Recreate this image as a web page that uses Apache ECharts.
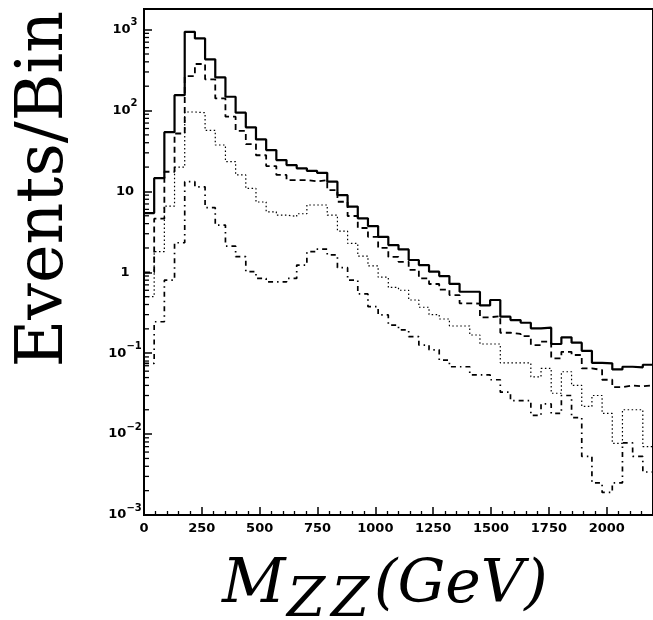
<!DOCTYPE html>
<html>
<head>
<meta charset="utf-8">
<script src="https://cdn.jsdelivr.net/npm/echarts@6/dist/echarts.min.js"></script>
<style>
html,body{margin:0;padding:0;background:#fff;}
#chart{width:653px;height:620px;}
</style>
</head>
<body>
<div id="chart"></div>
<script>
// Bin edges of the M_ZZ histogram (GeV), 50 bins of 44 GeV
const binEdges = [0,44,88,132,176,220,264,308,352,396,440,484,528,572,616,660,704,748,792,836,880,924,968,1012,1056,1100,1144,1188,1232,1276,1320,1364,1408,1452,1496,1540,1584,1628,1672,1716,1760,1804,1848,1892,1936,1980,2024,2068,2112,2156,2200];

// Events per bin, one value per bin
const solidTotal = [5.4,14.6,54,155,940,780,430,257,148,94,
  62,44,32.5,24.4,21.2,19.3,18,17,13.2,9.0,
  6.5,4.65,3.73,2.75,2.17,1.92,1.42,1.23,1.02,0.9,
  0.72,0.575,0.575,0.39,0.455,0.283,0.257,0.238,0.203,0.207,
  0.13,0.157,0.135,0.107,0.076,0.075,0.063,0.068,0.067,0.072];
const dashedSeries = [1.0,4.6,17.5,52,267,376,243,141,84,56,
  38.5,28,20.6,16,13.8,13.8,13.3,13.8,10.4,7.46,
  4.97,3.53,2.75,2.0,1.55,1.35,1.07,0.843,0.717,0.61,
  0.524,0.414,0.41,0.278,0.288,0.179,0.173,0.163,0.126,0.139,
  0.0865,0.104,0.095,0.065,0.062,0.047,0.038,0.040,0.039,0.040];
const dottedSeries = [0.5,1.8,6.6,20,96,94,57,37.5,23.3,16,
  10.9,7.4,5.6,5.1,4.9,5.3,6.8,6.8,5.1,3.24,
  2.28,1.59,1.2,0.87,0.65,0.6,0.455,0.37,0.3,0.265,
  0.217,0.217,0.168,0.13,0.13,0.076,0.076,0.076,0.051,0.065,
  0.032,0.059,0.040,0.022,0.030,0.018,0.0077,0.020,0.020,0.007];
const dashDotSeries = [0.075,0.245,0.8,2.32,13.2,11.4,6.3,3.84,2.11,1.56,
  1.02,0.84,0.76,0.76,0.84,1.23,1.8,1.94,1.64,1.14,
  0.8,0.54,0.376,0.297,0.223,0.194,0.16,0.126,0.11,0.082,
  0.068,0.068,0.054,0.054,0.047,0.033,0.026,0.026,0.017,0.0236,
  0.018,0.03,0.016,0.0053,0.0025,0.0019,0.0025,0.0078,0.0053,0.0034];

// Axis ticks
const xTickValues = [0,250,500,750,1000,1250,1500,1750,2000];
const yDecades = [-3,-2,-1,0,1,2,3];
const yMinorMultipliers = [2,3,4,5,6,7,8,9];

const yMinorTicks = [];
yDecades.forEach(d => yMinorMultipliers.forEach(m => {
  const v = m * Math.pow(10, d);
  if (v < 1800) yMinorTicks.push([0, v]);
}));

function histData(vals) {
  const out = vals.map((v, i) => [binEdges[i], v]);
  out.push([binEdges[vals.length], vals[vals.length - 1]]);
  return out;
}

function yLabel(v) {
  const e = Math.round(Math.log10(v));
  if (e === 0) return '{b|1}';
  if (e === 1) return '{b|10}';
  return '{b|10}{s|' + (e < 0 ? '\u2212' + (-e) : e) + '}';
}

const chart = echarts.init(document.getElementById('chart'), null, {renderer: 'canvas'});
const lineBase = {type: 'line', step: 'end', symbol: 'none', showSymbol: false, animation: false, silent: true};

chart.setOption({
  animation: false,
  backgroundColor: '#fff',
  grid: {left: 144, top: 9, right: -7, bottom: 105, show: true, borderColor: '#000', borderWidth: 2, backgroundColor: 'transparent'},
  xAxis: {
    type: 'value', min: 0, max: 2200, interval: 250,
    axisLine: {show: true, lineStyle: {color: '#000', width: 2}},
    axisTick: {show: true, inside: true, length: 8, lineStyle: {color: '#000', width: 1.5}},
    minorTick: {show: true, splitNumber: 5, length: 4, lineStyle: {color: '#000', width: 1.3}},
    splitLine: {show: false},
    axisLabel: {
      show: true, margin: 7, showMaxLabel: false, color: '#000',
      fontFamily: 'DejaVu Sans', fontWeight: 'bold', fontSize: 13,
      formatter: v => xTickValues.indexOf(v) >= 0 ? String(v) : ''
    }
  },
  yAxis: {
    type: 'log', logBase: 10, min: 0.001, max: 1800,
    axisLine: {show: true, lineStyle: {color: '#000', width: 2}},
    axisTick: {show: true, inside: true, length: 8, lineStyle: {color: '#000', width: 1.5}},
    splitLine: {show: false},
    minorTick: {show: false},
    axisLabel: {
      show: true, margin: 19, align: 'center', showMaxLabel: false, color: '#000',
      formatter: yLabel,
      rich: {
        b: {fontFamily: 'DejaVu Sans', fontWeight: 'bold', fontSize: 13, lineHeight: 24, color: '#000'},
        s: {fontFamily: 'DejaVu Sans', fontWeight: 'bold', fontSize: 10, lineHeight: 12, verticalAlign: 'top', color: '#000'}
      }
    }
  },
  series: [
    Object.assign({}, lineBase, {name: 'total', data: histData(solidTotal), lineStyle: {color: '#000', width: 2.2, type: 'solid'}, z: 4}),
    Object.assign({}, lineBase, {name: 'dashed', data: histData(dashedSeries), lineStyle: {color: '#000', width: 1.8, type: [6, 4]}, z: 3}),
    Object.assign({}, lineBase, {name: 'dotted', data: histData(dottedSeries), lineStyle: {color: '#000', width: 1.2, type: [1.5, 2.5]}, z: 3}),
    Object.assign({}, lineBase, {name: 'dashdot', data: histData(dashDotSeries), lineStyle: {color: '#000', width: 1.7, type: [5, 4, 1.5, 4]}, z: 3}),
    {
      type: 'custom', name: 'yminor', silent: true, animation: false, z: 5,
      data: yMinorTicks,
      renderItem: function (params, api) {
        const p = api.coord([0, api.value(1)]);
        return {type: 'line', shape: {x1: p[0], y1: p[1], x2: p[0] + 5, y2: p[1]}, style: {stroke: '#000', lineWidth: 1.3}};
      }
    }
  ],
  graphic: [
    {type: 'text', x: 45, y: 189, rotation: Math.PI / 2,
     style: {text: 'Events/Bin', font: '65px "DejaVu Serif"', fill: '#000', textAlign: 'center', textVerticalAlign: 'middle', align: 'center', verticalAlign: 'middle'}},
    {type: 'text', x: 222, y: 586,
     style: {text: 'M', font: 'italic 62px "DejaVu Serif"', fill: '#000', textAlign: 'left', textVerticalAlign: 'middle', align: 'left', verticalAlign: 'middle'}},
    {type: 'text', x: 287, y: 602,
     style: {text: 'Z', font: 'italic 55px "DejaVu Serif"', fill: '#000', textAlign: 'left', textVerticalAlign: 'middle', align: 'left', verticalAlign: 'middle'}},
    {type: 'text', x: 331, y: 602,
     style: {text: 'Z', font: 'italic 55px "DejaVu Serif"', fill: '#000', textAlign: 'left', textVerticalAlign: 'middle', align: 'left', verticalAlign: 'middle'}},
    {type: 'text', x: 374, y: 586,
     style: {text: '(GeV)', font: 'italic 60px "DejaVu Serif"', fill: '#000', textAlign: 'left', textVerticalAlign: 'middle', align: 'left', verticalAlign: 'middle'}}
  ]
});
</script>
</body>
</html>
